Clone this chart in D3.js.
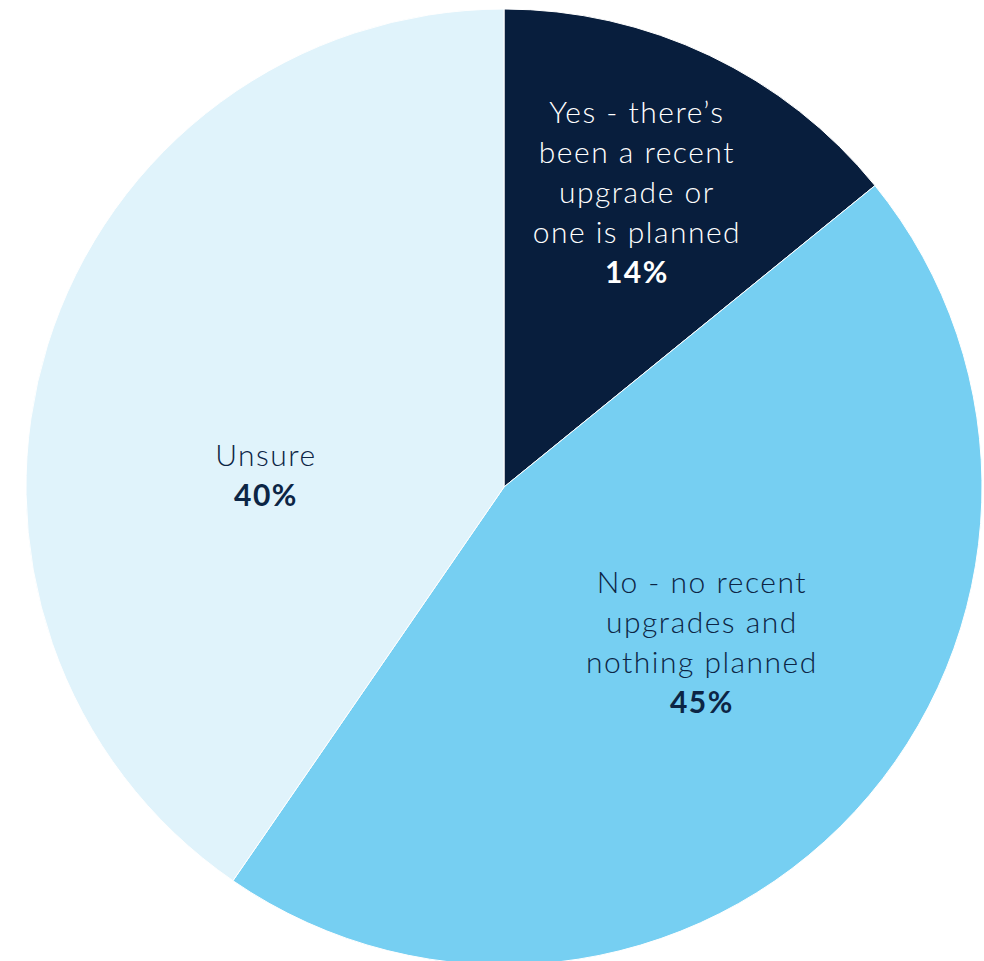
<!DOCTYPE html>
<html>
<head>
<meta charset="utf-8">
<script src="https://cdn.jsdelivr.net/npm/d3@7"></script>
<style>
  html, body { margin: 0; padding: 0; background: #ffffff; }
  svg { display: block; }
</style>
</head>
<body>
<svg id="chart" width="984" height="961"></svg>
<script>
// Survey answers, clockwise from 12 o'clock
const categories = ["Yes", "No", "Unsure"];
const values = [14, 45, 40];
const labelLines = [
  ["Yes - there\u2019s", "been a recent", "upgrade or", "one is planned"],
  ["No - no recent", "upgrades and", "nothing planned"],
  ["Unsure"]
];
const colors = ["#081e3d", "#76cff2", "#e0f3fb"];
const textColors = ["#ffffff", "#0c2545", "#0c2545"];

const width = 984, height = 961;
const cx = 504, cy = 487, radius = 478;

// Text block anchors, in radius units from the pie centre
const labelAnchors = [[0.278, -0.6165], [0.414, 0.325], [-0.498, -0.025]];

const svg = d3.select("#chart");
const g = svg.append("g").attr("transform", `translate(${cx},${cy})`);

const pie = d3.pie().sort(null).value(d => d.value);
const arc = d3.arc().innerRadius(0).outerRadius(radius);

const data = categories.map((c, i) => ({ category: c, value: values[i], i }));
const arcs = pie(data);

g.selectAll("path.slice")
  .data(arcs)
  .join("path")
  .attr("class", "slice")
  .attr("d", arc)
  .attr("fill", d => colors[d.data.i])
  .attr("stroke", "#ffffff")
  .attr("stroke-width", 1);

const fontFamily = "Lato, 'Open Sans', sans-serif";
const lineH = 40;

arcs.forEach(a => {
  const i = a.data.i;
  const lines = labelLines[i];
  const total = lines.length + 1;
  const ax = labelAnchors[i][0] * radius;
  const ay = labelAnchors[i][1] * radius;
  const top = ay - (total - 1) * lineH / 2;
  const t = g.append("text")
    .attr("text-anchor", "middle")
    .attr("fill", textColors[i])
    .style("font-family", fontFamily)
    .style("font-size", "30px")
    .style("letter-spacing", "1.5px");
  lines.forEach((ln, k) => {
    t.append("tspan")
      .attr("x", ax)
      .attr("y", top + k * lineH)
      .attr("dy", "0.35em")
      .style("font-weight", 300)
      .text(ln);
  });
  t.append("tspan")
    .attr("x", ax)
    .attr("y", top + lines.length * lineH)
    .attr("dy", "0.35em")
    .style("font-weight", 700)
    .text(a.data.value + "%");
});
</script>
</body>
</html>
